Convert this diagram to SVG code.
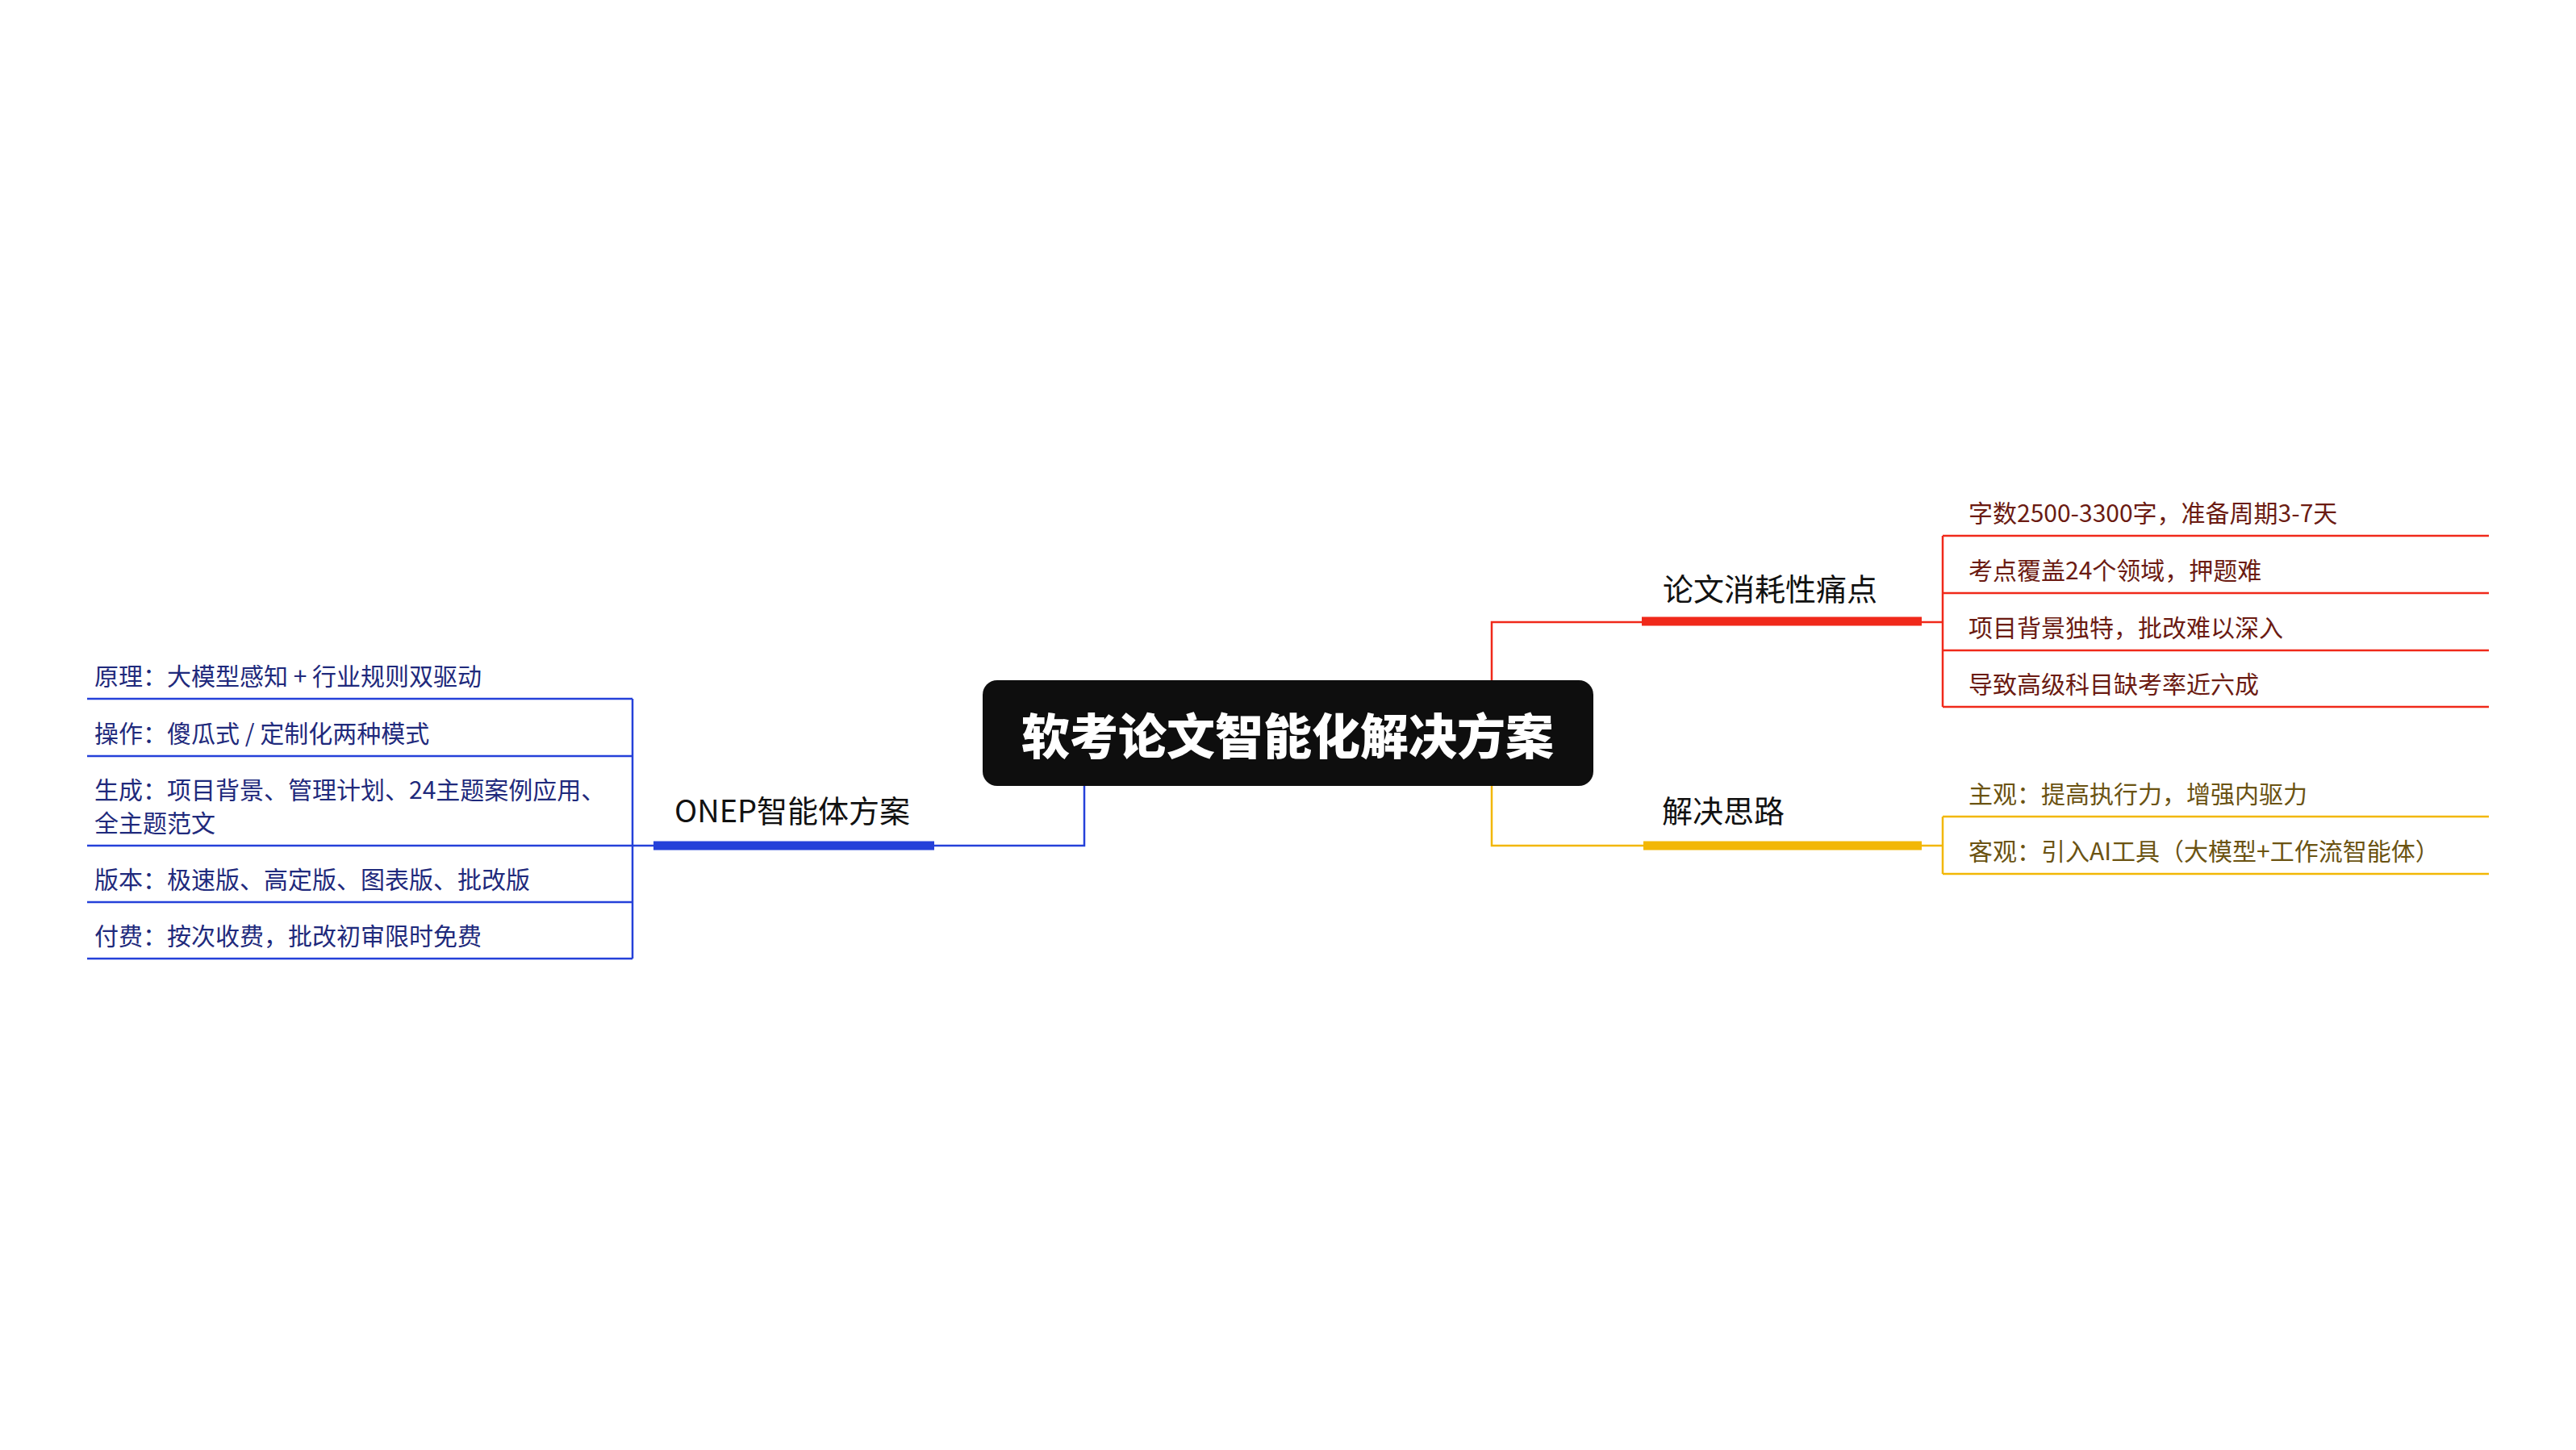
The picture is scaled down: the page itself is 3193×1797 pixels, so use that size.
<svg xmlns="http://www.w3.org/2000/svg" width="3193" height="1797" viewBox="0 0 3193 1797">
  <style>
    .txt { font-family: "Noto Sans CJK SC", "Noto Sans", sans-serif; }
    .title { font-size: 60px; font-weight: 900; fill: #FFFFFF; }
    .branch { font-size: 38px; fill: #111111; }
    .item { font-size: 30px; }
    .r-t { fill: #6B1B12; }
    .b-t { fill: #1F2A7C; }
    .y-t { fill: #6B5312; }
    .thin { fill: none; stroke-width: 2.5; }
    .bar { fill: none; stroke-width: 11; }
    .red { stroke: #F0291A; }
    .blue { stroke: #2541D9; }
    .yellow { stroke: #F2B705; }
  </style>
  <rect width="3193" height="1797" fill="#FFFFFF"/>

  <g id="connectors">
    <!-- center to red branch -->
    <polyline class="thin red" points="1849,843 1849,771 2035,771"/>
    <line class="bar red" x1="2035" y1="770" x2="2382" y2="770"/>
    <line class="thin red" x1="2382" y1="771" x2="2408" y2="771"/>
    <line class="thin red" x1="2408" y1="664" x2="2408" y2="876"/>
    <!-- center to yellow branch -->
    <polyline class="thin yellow" points="1849,973 1849,1048 2037,1048"/>
    <line class="bar yellow" x1="2037" y1="1048" x2="2382" y2="1048"/>
    <line class="thin yellow" x1="2382" y1="1048" x2="2408" y2="1048"/>
    <line class="thin yellow" x1="2408" y1="1012" x2="2408" y2="1083"/>
    <!-- center to blue branch -->
    <polyline class="thin blue" points="1344,973 1344,1048 1158,1048"/>
    <line class="bar blue" x1="1158" y1="1048" x2="810" y2="1048"/>
    <line class="thin blue" x1="810" y1="1048" x2="784" y2="1048"/>
    <line class="thin blue" x1="784" y1="866" x2="784" y2="1188"/>
  </g>

  <g id="center">
    <rect x="1218" y="843" width="757" height="131" rx="18" ry="18" fill="#0E0E0E"/>
    <text class="txt title" x="1596" y="935" text-anchor="middle">软考论文智能化解决方案</text>
  </g>

  <g id="branch-pain">
    <text class="txt branch" x="2061" y="744">论文消耗性痛点</text>
  </g>
  <g id="pain-1">
    <text class="txt item r-t" x="2440" y="647">字数2500-3300字，准备周期3-7天</text>
    <line class="thin red" x1="2408" y1="664" x2="3085" y2="664"/>
  </g>
  <g id="pain-2">
    <text class="txt item r-t" x="2440" y="718">考点覆盖24个领域，押题难</text>
    <line class="thin red" x1="2408" y1="735" x2="3085" y2="735"/>
  </g>
  <g id="pain-3">
    <text class="txt item r-t" x="2440" y="789">项目背景独特，批改难以深入</text>
    <line class="thin red" x1="2408" y1="806" x2="3085" y2="806"/>
  </g>
  <g id="pain-4">
    <text class="txt item r-t" x="2440" y="859">导致高级科目缺考率近六成</text>
    <line class="thin red" x1="2408" y1="876" x2="3085" y2="876"/>
  </g>

  <g id="branch-idea">
    <text class="txt branch" x="2060" y="1019">解决思路</text>
  </g>
  <g id="idea-1">
    <text class="txt item y-t" x="2440" y="995">主观：提高执行力，增强内驱力</text>
    <line class="thin yellow" x1="2408" y1="1012" x2="3085" y2="1012"/>
  </g>
  <g id="idea-2">
    <text class="txt item y-t" x="2440" y="1066">客观：引入AI工具（大模型+工作流智能体）</text>
    <line class="thin yellow" x1="2408" y1="1083" x2="3085" y2="1083"/>
  </g>

  <g id="branch-onep">
    <text class="txt branch" x="836" y="1019">ONEP智能体方案</text>
  </g>
  <g id="onep-1">
    <text class="txt item b-t" x="117" y="849">原理：大模型感知 + 行业规则双驱动</text>
    <line class="thin blue" x1="108" y1="866" x2="784" y2="866"/>
  </g>
  <g id="onep-2">
    <text class="txt item b-t" x="117" y="920">操作：傻瓜式 / 定制化两种模式</text>
    <line class="thin blue" x1="108" y1="937" x2="784" y2="937"/>
  </g>
  <g id="onep-3">
    <text class="txt item b-t" x="117" y="990">生成：项目背景、管理计划、24主题案例应用、</text>
    <text class="txt item b-t" x="117" y="1031">全主题范文</text>
    <line class="thin blue" x1="108" y1="1048" x2="784" y2="1048"/>
  </g>
  <g id="onep-4">
    <text class="txt item b-t" x="117" y="1101">版本：极速版、高定版、图表版、批改版</text>
    <line class="thin blue" x1="108" y1="1118" x2="784" y2="1118"/>
  </g>
  <g id="onep-5">
    <text class="txt item b-t" x="117" y="1171">付费：按次收费，批改初审限时免费</text>
    <line class="thin blue" x1="108" y1="1188" x2="784" y2="1188"/>
  </g>
</svg>
